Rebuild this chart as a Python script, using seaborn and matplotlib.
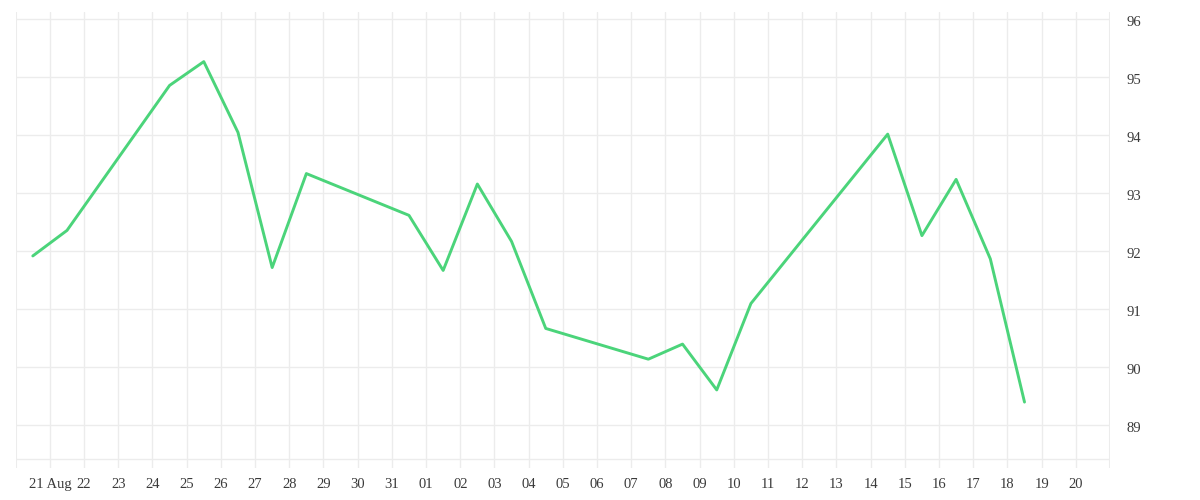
import matplotlib
matplotlib.use("Agg")
import matplotlib.pyplot as plt
import matplotlib.dates as mdates
import matplotlib.transforms as mtransforms
import seaborn as sns
import pandas as pd
import numpy as np

# ---- data ----
dates = ["2020-08-20", "2020-08-21", "2020-08-24", "2020-08-25", "2020-08-26",
         "2020-08-27", "2020-08-28", "2020-08-31", "2020-09-01", "2020-09-02",
         "2020-09-03", "2020-09-04", "2020-09-07", "2020-09-08", "2020-09-09",
         "2020-09-10", "2020-09-14", "2020-09-15", "2020-09-16", "2020-09-17",
         "2020-09-18"]
values = [91.92, 92.36, 94.86, 95.27, 94.05,
          91.72, 93.34, 92.62, 91.67, 93.16,
          92.17, 90.67, 90.14, 90.40, 89.61,
          91.10, 94.02, 92.27, 93.24, 91.87,
          89.40]
y_ticks = [89, 90, 91, 92, 93, 94, 95, 96]
tick_days = pd.date_range("2020-08-21", "2020-09-20", freq="D")
tick_labels = ["21 Aug"] + [d.strftime("%d") for d in tick_days[1:]]

df = pd.DataFrame({"date": pd.to_datetime(dates) + pd.Timedelta(hours=12),
                   "value": values})

sns.set_theme(style="white")
plt.rcParams["font.family"] = ["Liberation Serif", "DejaVu Serif"]

W, H = 1200, 500
fig = plt.figure(figsize=(12, 5), dpi=100)
left_px, right_px, top_px, bot_px = 15.7, 1110, 12, 468
ax = fig.add_axes([left_px / W, 1 - bot_px / H, (right_px - left_px) / W, (bot_px - top_px) / H])

grid_c = "#ececec"
# y scale: 96 at y=19.3 px, 58 px per unit
y96 = 19.3
ppu = 58.0
ymax = 96 + (y96 - top_px) / ppu
ymin = 96 - (bot_px - y96) / ppu
ax.set_ylim(ymin, ymax)

x0 = pd.Timestamp("2020-08-20")
x1 = pd.Timestamp("2020-09-21")
ax.set_xlim(x0, x1)

# grid
for d in tick_days:
    ax.axvline(d, color=grid_c, lw=1, zorder=0)
ax.axvline(x0, color=grid_c, lw=1.5, zorder=0)
ax.axvline(x1, color=grid_c, lw=1.5, zorder=0)
for yv in y_ticks:
    ax.axhline(yv, color=grid_c, lw=1, zorder=0)
ax.axhline(96 - (458.5 - y96) / ppu, color=grid_c, lw=1, zorder=0)

sns.lineplot(data=df, x="date", y="value", ax=ax, color="#4bd47a", lw=2.1, zorder=3)

for s in ax.spines.values():
    s.set_visible(False)

ax.set_xticks(tick_days)
ax.set_xticklabels(tick_labels)
ax.set_yticks(y_ticks)
ax.set_yticklabels([str(v) for v in y_ticks])
ax.yaxis.tick_right()
ax.tick_params(axis="y", length=0, pad=12, labelsize=10.5, labelcolor="#3a3a3a")
ax.tick_params(axis="x", length=0, pad=7, labelsize=10.5, labelcolor="#3a3a3a")
shift = mtransforms.ScaledTranslation(0, -2 / 100, fig.dpi_scale_trans)
for lbl in ax.get_yticklabels():
    lbl.set_horizontalalignment("left")
    lbl.set_transform(lbl.get_transform() + shift)
ax.set_xlabel("")
ax.set_ylabel("")

fig.savefig("out.png", dpi=100)
